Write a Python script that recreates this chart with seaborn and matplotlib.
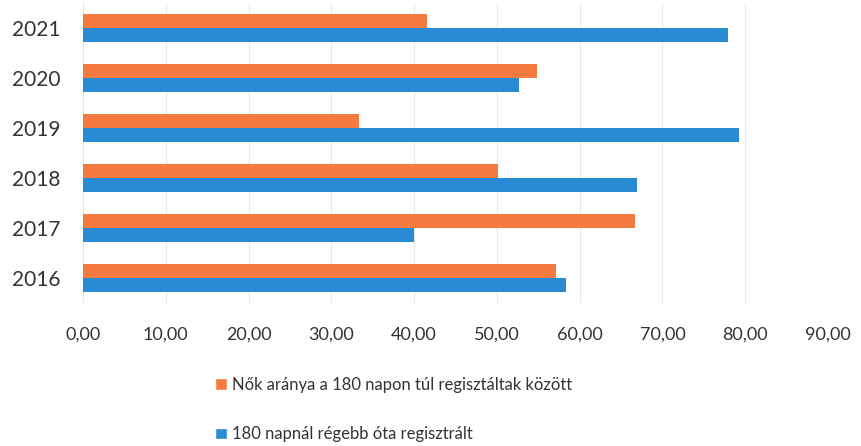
import matplotlib
matplotlib.use("Agg")
import matplotlib.pyplot as plt
import seaborn as sns
import pandas as pd
from matplotlib.patches import Patch
from matplotlib.ticker import FuncFormatter

years = ["2021", "2020", "2019", "2018", "2017", "2016"]
series_names = [
    "Nők aránya a 180 napon túl regisztáltak között",
    "180 napnál régebb óta regisztrált",
]
women_share = [41.5, 54.9, 33.4, 50.1, 66.7, 57.1]
long_registered = [77.9, 52.7, 79.3, 66.9, 40.0, 58.3]
x_ticks = [0, 10, 20, 30, 40, 50, 60, 70, 80, 90]

ORANGE = "#F47A40"
BLUE = "#2A8BD5"

df = pd.DataFrame({
    "year": years * 2,
    "value": women_share + long_registered,
    "series": [series_names[0]] * len(years) + [series_names[1]] * len(years),
})

sns.set_theme(style="white")
plt.rcParams["font.family"] = ["Lato", "DejaVu Sans"]

fig = plt.figure(figsize=(8.62, 4.46), dpi=100)
ax = fig.add_axes([83 / 862, 1 - 303 / 446, (828 - 83) / 862, 300 / 446])

sns.barplot(
    data=df, x="value", y="year", hue="series",
    order=years, hue_order=series_names,
    palette=[ORANGE, BLUE], width=0.56, orient="h",
    saturation=1, legend=False, linewidth=0, ax=ax,
)

ax.set_xlim(0, 90)
ax.set_xticks(x_ticks)
ax.xaxis.set_major_formatter(FuncFormatter(lambda v, _: f"{v:.2f}".replace(".", ",")))
ax.grid(axis="x", color="#e8e8e8", linewidth=0.8)
ax.set_axisbelow(True)
for s in ax.spines.values():
    s.set_visible(False)
ax.set_xlabel("")
ax.set_ylabel("")
ax.tick_params(axis="x", length=0, pad=17, labelsize=13, colors="#333333")
ax.tick_params(axis="y", length=0, pad=16, labelsize=15, colors="#333333")

handles = [Patch(facecolor=ORANGE), Patch(facecolor=BLUE)]
fig.legend(
    handles, series_names, loc="upper left",
    bbox_to_anchor=(200 / 862, 1 - 362 / 446),
    frameon=False, fontsize=12, labelcolor="#333333",
    handlelength=0.7, handleheight=0.7, handletextpad=0.3,
    labelspacing=2.0,
)

fig.savefig("out.png", dpi=100)
